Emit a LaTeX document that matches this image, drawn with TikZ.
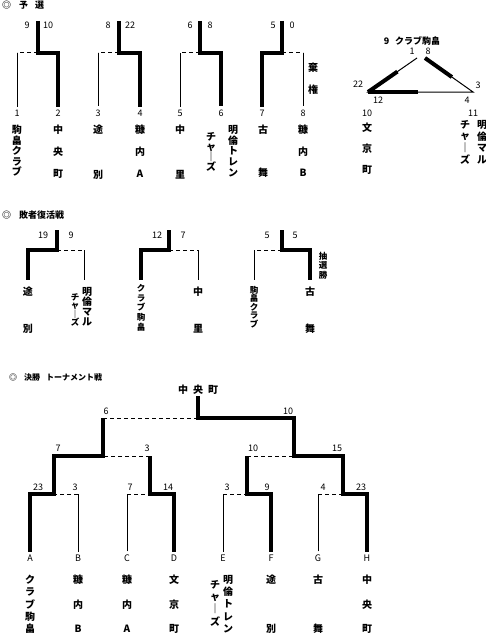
\documentclass[tikz,border=0pt]{standalone}
\usepackage{fontspec}
\setmainfont{Noto Sans CJK JP}
\usetikzlibrary{calc}
\tikzset{
  win/.style={line width=4pt, line join=miter},
  lose/.style={line width=1pt},
  tie/.style={line width=1pt, dash pattern=on 4pt off 3pt},
  num/.style={inner sep=1pt, font=\fontsize{9}{10}\selectfont},
  ttl/.style={anchor=west, inner sep=0pt, font=\bfseries\fontsize{9}{11}\selectfont},
  vname/.style={align=center, anchor=north, inner sep=0pt, font=\bfseries\fontsize{10}{#1}\selectfont},
  vsmall/.style={align=center, anchor=north, inner sep=0pt, font=\bfseries\fontsize{8.5}{#1}\selectfont}}

\begin{document}
\begin{tikzpicture}[x=1pt, y=-1pt]
\useasboundingbox (0,0) rectangle (486,634);

% qualifying round
\node[ttl] (hq) at (2,5) {◎\hspace{8pt}予\hspace{7pt}選};
\node[num] (n1) at (17,113) {1};  \node[num] (n2) at (58,113) {2};
\node[num] (n3) at (98,113) {3};  \node[num] (n4) at (140,113) {4};
\node[num] (n5) at (180,113) {5}; \node[num] (n6) at (221,113) {6};
\node[num] (n7) at (262,113) {7}; \node[num] (n8) at (303,113) {8};
\node[vname=10.5] (a1) at (17,125) {駒\\畠\\ク\\ラ\\ブ};
\node[vname=22] (a2) at (58,125) {中\\央\\町};
\node[vname=45] (a3) at (98,125) {途\\別};
\node[vname=22] (a4) at (140,125) {糠\\内\\A};
\node[vname=45] (a5) at (180,125) {中\\里};
\node[vname=10.75] (a6) at (233,125) {明\\倫\\ト\\レ\\ン};
\node[vname=10] (a6b) at (211,132) {チ\\ャ\\｜\\ズ};
\node[vname=43] (a7) at (263,125) {古\\舞};
\node[vname=21.5] (a8) at (303,125) {糠\\内\\B};
\node[vname=22] (kk) at (313,63) {棄\\権};
\coordinate (p1) at (38,21);  \coordinate (q1) at (38,53);
\coordinate (p2) at (119,21); \coordinate (q2) at (119,53);
\coordinate (p3) at (200,21); \coordinate (q3) at (200,53);
\coordinate (p4) at (282,21); \coordinate (q4) at (282,53);
\node[num] at (27,25) {9};  \node[num] at (48,25) {10};
\node[num] at (108,25) {8}; \node[num] at (130,25) {22};
\node[num] at (190,25) {6}; \node[num] at (210,25) {8};
\node[num] at (273,25) {5}; \node[num] at (292,25) {0};
\draw[win, shorten >=2pt] (p1) -- (q1) -| (n2.north);
\draw[tie] (q1) -- (q1 -| n1);
\draw[lose, shorten >=2pt] (q1 -| n1) -- (n1.north);
\draw[win, shorten >=2pt] (p2) -- (q2) -| (n4.north);
\draw[tie] (q2) -- (q2 -| n3);
\draw[lose, shorten >=2pt] (q2 -| n3) -- (n3.north);
\draw[win, shorten >=2pt] (p3) -- (q3) -| (n6.north);
\draw[tie] (q3) -- (q3 -| n5);
\draw[lose, shorten >=2pt] (q3 -| n5) -- (n5.north);
\draw[win, shorten >=2pt] (p4) -- (q4) -| (n7.north);
\draw[tie] (q4) -- (q4 -| n8);
\draw[lose, shorten >=2pt] (q4 -| n8) -- (n8.north);

% league of three
\coordinate (ta1) at (417,58); \coordinate (ta2) at (425,58);
\coordinate (tl) at (368,92);  \coordinate (tr) at (473,92);
\draw[lose] (ta1) -- (tl) -- (tr) -- (ta2);
\draw[win] (tl) -- ($(tl)!.6!(ta1)$);
\draw[win] (ta2) -- ($(ta2)!.56!(tr)$);
\draw[win] (tl) -- ($(tl)!.48!(tr)$);
\node[num, font=\bfseries\fontsize{9}{10}\selectfont] (g9) at (412,41) {9\hspace{6pt}クラブ駒畠};
\node[num] at (412,51) {1}; \node[num] at (428,51) {8};
\node[num] at (358,84) {22}; \node[num] at (478,85) {3};
\node[num] at (378,100) {12}; \node[num] at (467,100) {4};
\node[num] (g10) at (367,113) {10}; \node[num] (g11) at (473,113) {11};
\node[vname=21] (b10) at (367,123) {文\\京\\町};
\node[vname=11.7] (b11) at (482,120) {明\\倫\\マ\\ル};
\node[vname=11.7] (b11b) at (465,120) {チ\\ャ\\｜\\ズ};

% losers' round
\node[ttl] (hl) at (2,215) {◎\hspace{8pt}敗者復活戦};
\coordinate (u1) at (57,230);  \coordinate (v1) at (57,250);
\coordinate (u2) at (169,230); \coordinate (v2) at (169,250);
\coordinate (u3) at (282,230); \coordinate (v3) at (282,250);
\coordinate (r1) at (28,280);  \coordinate (r2) at (84,280);
\coordinate (r3) at (141,280); \coordinate (r4) at (198,280);
\coordinate (r5) at (254,280); \coordinate (r6) at (310,280);
\node[num] at (43,235) {19};  \node[num] at (71,235) {9};
\node[num] at (157,235) {12}; \node[num] at (183,235) {7};
\node[num] at (267,235) {5};  \node[num] at (295,235) {5};
\draw[win] (u1) -- (v1) -| (r1);
\draw[tie] (v1) -- (v1 -| r2);
\draw[lose] (v1 -| r2) -- (r2);
\draw[win] (u2) -- (v2) -| (r3);
\draw[tie] (v2) -- (v2 -| r4);
\draw[lose] (v2 -| r4) -- (r4);
\draw[win] (u3) -- (v3) -| (r6);
\draw[tie] (v3) -- (v3 -| r5);
\draw[lose] (v3 -| r5) -- (r5);
\node[vname=37] (c1) at (28,287) {途\\別};
\node[vname=10] (c2) at (87,287) {明\\倫\\マ\\ル};
\node[vsmall=8.5] (c2b) at (75,293) {チ\\ャ\\｜\\ズ};
\node[vsmall=9.75] (c3) at (141,284) {ク\\ラ\\ブ\\駒\\畠};
\node[vname=37] (c4) at (198,287) {中\\里};
\node[vsmall=8.5] (c5) at (254,286) {駒\\畠\\ク\\ラ\\ブ};
\node[vname=37] (c6) at (310,287) {古\\舞};
\node[vsmall=9.5] (cs) at (323,252) {抽\\選\\勝};

% final tournament
\node[ttl, font=\bfseries\fontsize{8}{10}\selectfont] (hf) at (9,377) {◎\hspace{7pt}決勝\hspace{6pt}トーナメント戦};
\node[inner sep=1pt, font=\bfseries\fontsize{10}{12}\selectfont] (ch) at (198,390) {中\hspace{5pt}央\hspace{5pt}町};
\node[num] (A) at (30,558) {A};  \node[num] (B) at (78,558) {B};
\node[num] (C) at (127,558) {C}; \node[num] (D) at (174,558) {D};
\node[num] (E) at (223,558) {E}; \node[num] (F) at (271,558) {F};
\node[num] (G) at (318,558) {G}; \node[num] (H) at (367,558) {H};
\coordinate (m1) at (54,494);  \coordinate (m2) at (150,494);
\coordinate (m3) at (247,494); \coordinate (m4) at (343,494);
\coordinate (s1) at (103,456); \coordinate (s2) at (294,456);
\coordinate (f) at (198,418);
\node[num] at (38,487) {23};  \node[num] at (75,487) {3};
\node[num] at (130,487) {7};  \node[num] at (168,487) {14};
\node[num] at (227,487) {3};  \node[num] at (267,487) {9};
\node[num] at (323,487) {4};  \node[num] at (361,487) {23};
\node[num] at (58,448) {7};   \node[num] at (147,448) {3};
\node[num] at (253,448) {10}; \node[num] at (337,448) {15};
\node[num] at (106,411) {6};  \node[num] at (288,411) {10};
\draw[win, shorten <=2pt] (A.north) |- (m1) |- (s1) -- (s1 |- f);
\draw[tie] (s1 |- f) -- (f);
\draw[win, shorten <=2pt] (H.north) |- (m4) |- (s2) |- (f) -- (ch.south);
\draw[win, shorten <=2pt] (D.north) |- (m2) -- (m2 |- s1);
\draw[tie] (m2 |- s1) -- (s1);
\draw[win, shorten <=2pt] (F.north) |- (m3) -- (m3 |- s2);
\draw[tie] (m3 |- s2) -- (s2);
\draw[lose, shorten <=2pt] (B.north) -- (B |- m1);
\draw[tie] (B |- m1) -- (m1);
\draw[lose, shorten <=2pt] (C.north) -- (C |- m2);
\draw[tie] (C |- m2) -- (m2);
\draw[lose, shorten <=2pt] (E.north) -- (E |- m3);
\draw[tie] (E |- m3) -- (m3);
\draw[lose, shorten <=2pt] (G.north) -- (G |- m4);
\draw[tie] (G |- m4) -- (m4);
\node[vname=12.25] (dA) at (30,575) {ク\\ラ\\ブ\\駒\\畠};
\node[vname=24.5] (dB) at (78,575) {糠\\内\\B};
\node[vname=24.5] (dC) at (127,575) {糠\\内\\A};
\node[vname=24.5] (dD) at (174,575) {文\\京\\町};
\node[vname=12.25] (dE) at (228,575) {明\\倫\\ト\\レ\\ン};
\node[vname=12.3] (dEb) at (215,580) {チ\\ャ\\｜\\ズ};
\node[vname=49] (dF) at (271,575) {途\\別};
\node[vname=49] (dG) at (318,575) {古\\舞};
\node[vname=24.5] (dH) at (367,575) {中\\央\\町};
\end{tikzpicture}
\end{document}
